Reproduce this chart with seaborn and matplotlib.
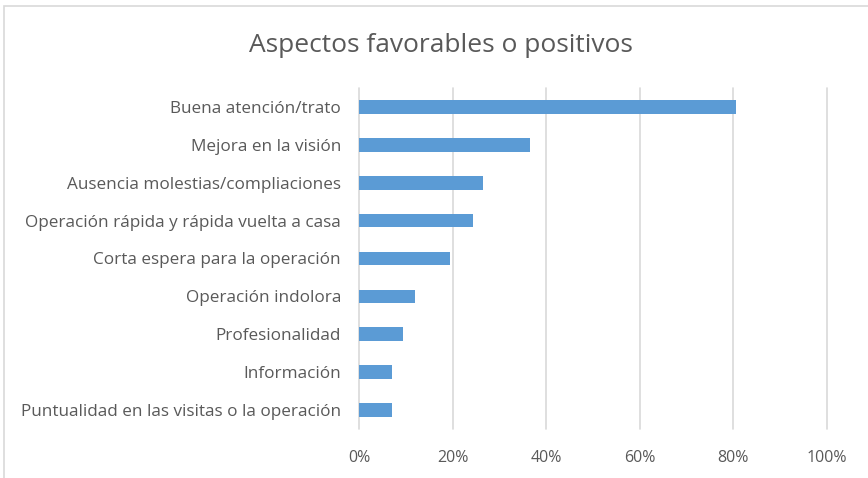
import matplotlib
matplotlib.use("Agg")
import matplotlib.pyplot as plt
import matplotlib.ticker as ticker
import seaborn as sns
import pandas as pd
from matplotlib.patches import Rectangle

categories = [
    "Buena atención/trato",
    "Mejora en la visión",
    "Ausencia molestias/compliaciones",
    "Operación rápida y rápida vuelta a casa",
    "Corta espera para la operación",
    "Operación indolora",
    "Profesionalidad",
    "Información",
    "Puntualidad en las visitas o la operación",
]
values = [80.5, 36.5, 26.6, 24.4, 19.4, 12.0, 9.5, 7.1, 7.1]
x_ticks = [0, 20, 40, 60, 80, 100]

df = pd.DataFrame({"aspecto": categories, "pct": values})

sns.set_theme(style="white")
plt.rcParams["font.family"] = ["Open Sans", "DejaVu Sans"]

text_color = "#595959"
grid_color = "#d9d9d9"

fig = plt.figure(figsize=(8.68, 4.78), dpi=100)
ax = fig.add_axes([359 / 868, 49 / 478, 468 / 868, 341 / 478])

sns.barplot(data=df, x="pct", y="aspecto", orient="h", color="#5b9bd5",
            saturation=1, width=0.36, linewidth=0, ax=ax)

ax.set_xlim(0, 100)
ax.set_ylim(8.5, -0.5)
ax.set_xticks(x_ticks)
ax.xaxis.set_major_formatter(ticker.FuncFormatter(lambda v, p: f"{v:.0f}%"))
ax.grid(axis="x", color=grid_color, linewidth=1.2)
for gl in ax.get_xgridlines():
    gl.set_clip_on(False)
ax.set_axisbelow(True)
for s in ax.spines.values():
    s.set_visible(False)
ax.set_xlabel("")
ax.set_ylabel("")
ax.tick_params(axis="both", length=0, colors=text_color)
ax.tick_params(axis="y", labelsize=12.3, pad=13)
ax.tick_params(axis="x", labelsize=11.5, pad=15)

fig.text(441 / 868, 1 - 45 / 478, "Aspectos favorables o positivos",
         ha="center", va="center", fontsize=19, color=text_color)

# chart area border (cropped at right and bottom)
fig.patches.append(Rectangle((4 / 868, -0.1), 1.2, 1 - 6 / 478 + 0.1,
                             transform=fig.transFigure, fill=False,
                             edgecolor=grid_color, linewidth=1.2))

fig.savefig("out.png", dpi=100)
